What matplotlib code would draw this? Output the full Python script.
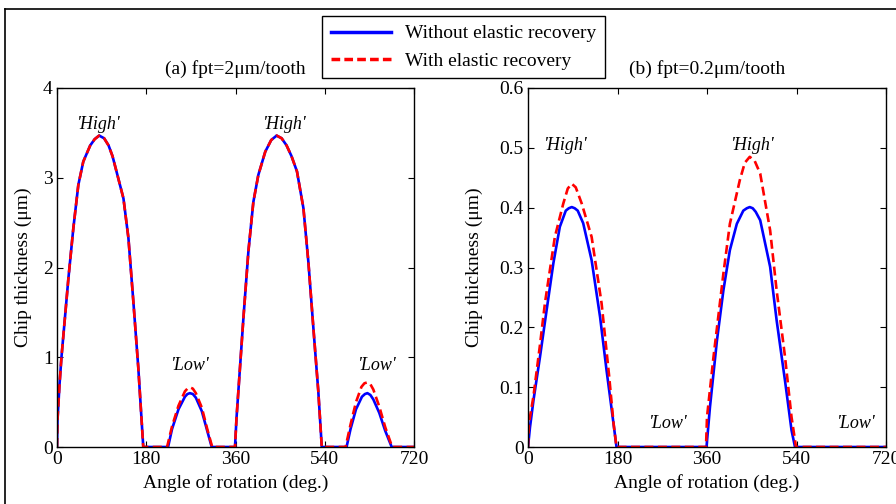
import numpy as np
import matplotlib
matplotlib.use('Agg')
import matplotlib.pyplot as plt
from matplotlib.lines import Line2D

plt.rcParams['font.family'] = ['Liberation Serif', 'DejaVu Serif']

# (a) fpt = 2 um/tooth
a_ang_wo = [0, 1, 5, 9, 16, 23, 33, 43, 53, 67, 76, 85, 95, 104, 112, 120, 134, 144, 154, 164, 174,
            224, 232, 245, 258, 263, 268, 274, 280, 292, 303, 312,
            359, 362, 369, 376, 386, 396, 406, 420, 432, 443, 453, 463, 473, 484, 497, 507, 517, 527, 534,
            584, 592, 603, 615, 621, 626, 632, 638, 650, 662, 675, 720]
a_val_wo = [0, 0.3, 0.69, 1.0, 1.44, 1.88, 2.44, 2.92, 3.18, 3.36, 3.43, 3.47, 3.44, 3.36, 3.24, 3.07, 2.77, 2.33, 1.62, 0.88, 0,
            0, 0.2, 0.42, 0.56, 0.59, 0.60, 0.59, 0.55, 0.40, 0.18, 0,
            0, 0.32, 0.88, 1.44, 2.18, 2.73, 3.03, 3.29, 3.42, 3.47, 3.44, 3.36, 3.24, 3.07, 2.66, 2.06, 1.33, 0.62, 0,
            0, 0.2, 0.42, 0.56, 0.59, 0.60, 0.58, 0.53, 0.38, 0.18, 0, 0]
a_ang_w = [0, 1, 5, 9, 16, 23, 33, 43, 53, 67, 76, 85, 95, 104, 112, 120, 134, 144, 154, 164, 174,
           222, 232, 245, 258, 263, 268, 274, 280, 292, 303, 313,
           359, 362, 369, 376, 386, 396, 406, 420, 432, 443, 453, 463, 473, 484, 497, 507, 517, 527, 534,
           582, 592, 603, 614, 620, 626, 632, 638, 650, 662, 676, 720]
a_val_w = [0, 0.3, 0.69, 1.0, 1.44, 1.88, 2.44, 2.92, 3.18, 3.36, 3.43, 3.47, 3.44, 3.36, 3.24, 3.07, 2.77, 2.33, 1.62, 0.88, 0,
           0, 0.23, 0.46, 0.62, 0.65, 0.665, 0.65, 0.6, 0.44, 0.2, 0,
           0, 0.32, 0.88, 1.44, 2.18, 2.73, 3.03, 3.29, 3.42, 3.47, 3.44, 3.36, 3.24, 3.07, 2.66, 2.06, 1.33, 0.62, 0,
           0, 0.25, 0.5, 0.67, 0.71, 0.72, 0.70, 0.64, 0.45, 0.22, 0, 0]

# (b) fpt = 0.2 um/tooth
b_ang_wo = [0, 4, 11, 24, 37.5, 51, 64, 76, 82, 88, 94, 100, 111, 128, 145, 158, 172, 178,
            359, 366, 380, 393, 406, 420, 433, 440, 446, 452, 458, 467, 487, 500, 517, 530, 537, 720]
b_val_wo = [0, 0.033, 0.078, 0.15, 0.229, 0.307, 0.368, 0.395, 0.399, 0.401, 0.399, 0.395, 0.374, 0.312, 0.217, 0.128, 0.039, 0,
            0, 0.067, 0.178, 0.262, 0.329, 0.373, 0.395, 0.399, 0.401, 0.399, 0.393, 0.379, 0.301, 0.212, 0.11, 0.028, 0, 0]
b_ang_w = [0, 2, 11, 24, 34, 54, 71, 80, 88, 96, 108, 128, 148, 163, 172, 178,
           358, 360, 373, 393, 406, 426, 436, 446, 456, 467, 487, 500, 517, 530, 539, 720]
b_val_w = [0, 0.04, 0.085, 0.17, 0.24, 0.351, 0.407, 0.432, 0.44, 0.434, 0.407, 0.351, 0.24, 0.12, 0.04, 0,
           0, 0.05, 0.15, 0.29, 0.373, 0.446, 0.475, 0.485, 0.478, 0.457, 0.362, 0.262, 0.15, 0.05, 0, 0]

a_labels = [("'High'", 84, 3.59), ("'High'", 460, 3.59), ("'Low'", 268, 0.91), ("'Low'", 645, 0.91)]
b_labels = [("'High'", 75, 0.504), ("'High'", 451, 0.504), ("'Low'", 283, 0.04), ("'Low'", 660, 0.04)]

fig = plt.figure(figsize=(8.96, 5.04), dpi=100)
ax1 = fig.add_axes([57 / 896, 1 - 447 / 504, 357 / 896, 359 / 504])
ax2 = fig.add_axes([528 / 896, 1 - 447 / 504, 358 / 896, 359 / 504])

panels = [
    (ax1, a_ang_wo, a_val_wo, a_ang_w, a_val_w, a_labels, '(a) fpt=2μm/tooth', 4, [0, 1, 2, 3, 4], ['0', '1', '2', '3', '4'], -0.07),
    (ax2, b_ang_wo, b_val_wo, b_ang_w, b_val_w, b_labels, '(b) fpt=0.2μm/tooth', 0.6,
     [0, 0.1, 0.2, 0.3, 0.4, 0.5, 0.6], ['0', '0.1', '0.2', '0.3', '0.4', '0.5', '0.6'], -0.126),
]

for ax, xw, yw, xr, yr, labels, title, ymax, yt, ytl, ylx in panels:
    ax.plot(xw, yw, color='blue', lw=1.9, solid_joinstyle='round')
    ax.plot(xr, yr, color='red', lw=1.9, linestyle=(0, (3.4, 1.7)), dash_joinstyle='round')
    for txt, x, y in labels:
        ax.text(x, y, txt, style='italic', fontsize=13, ha='center', va='center')
    ax.set_xlim(0, 720)
    ax.set_ylim(0, ymax)
    ax.set_xticks([0, 180, 360, 540, 720])
    ax.set_yticks(yt)
    ax.set_yticklabels(ytl)
    ax.tick_params(direction='in', top=True, right=True, labelsize=14, length=4, width=0.8, pad=3)
    for s in ax.spines.values():
        s.set_linewidth(1.0)
    ax.set_title(title, fontsize=14, pad=10)
    ax.set_xlabel('Angle of rotation (deg.)', fontsize=14)
    ax.set_ylabel('Chip thickness (μm)', fontsize=14)
    ax.xaxis.set_label_coords(0.5, -0.075)
    ax.yaxis.set_label_coords(ylx, 0.5)

handles = [Line2D([], [], color='blue', lw=2.5),
           Line2D([], [], color='red', lw=2.5, linestyle=(0, (2.5, 1.2)))]
leg = fig.legend(handles, ['Without elastic recovery', 'With elastic recovery'],
                 loc='upper left', bbox_to_anchor=(322 / 896, 1 - 16 / 504), fontsize=14,
                 frameon=True, fancybox=False, edgecolor='black', framealpha=1,
                 handlelength=3.1, handletextpad=0.7, labelspacing=0.5, borderpad=0.45,
                 borderaxespad=0)
leg.get_frame().set_linewidth(1.0)

# outer frame of the original figure
fig.add_artist(Line2D([5 / 896, 5 / 896], [0, 1 - 9 / 504], color='black', lw=1.2))
fig.add_artist(Line2D([5 / 896, 1], [1 - 9 / 504, 1 - 9 / 504], color='black', lw=1.2))

fig.savefig('out.png', dpi=100)
